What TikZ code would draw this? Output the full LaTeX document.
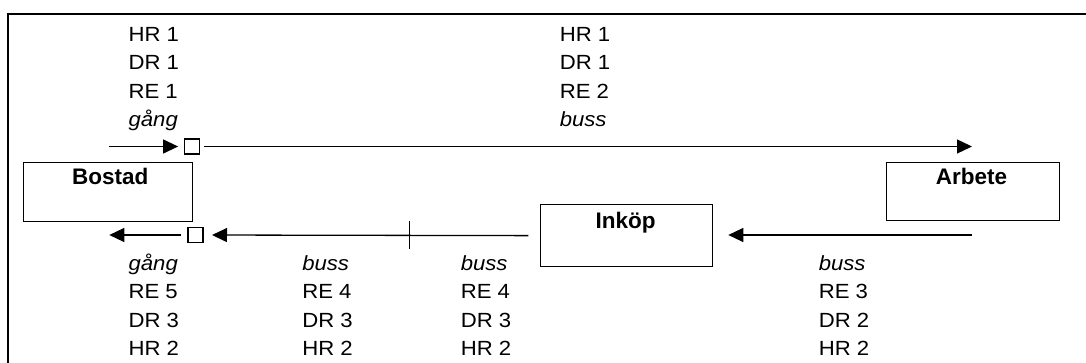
\documentclass[tikz,border=0pt]{standalone}
\usepackage{fontspec}
\setmainfont{Liberation Sans}
\newfontfamily\tripfont[FakeStretch=1.08]{Liberation Sans}
\usetikzlibrary{arrows.meta}
\begin{document}
\begin{tikzpicture}[x=1pt,y=-1pt,
  lbl/.style={font=\tripfont\fontsize{20.5}{28.2}\selectfont, align=left, inner sep=0pt, anchor=base},
  title/.style={font=\fontsize{22.5}{25}\selectfont\bfseries, inner sep=0pt, anchor=base},
  place/.style={draw, line width=1.3pt, inner sep=0pt, anchor=north west},
  stopbox/.style={draw, line width=1.2pt, minimum size=15pt, inner sep=0pt},
  conn/.style={line width=1.3pt, -{Triangle[length=15pt,width=14pt]}},
  frameline/.style={line width=2.4pt},
  tickline/.style={line width=1.2pt}]

\useasboundingbox (0,0) rectangle (1086,363);

% frame (top and left edges)
\draw[frameline] (7.8,363) -- (7.8,14) -- (1086,14);

% places
\node[place, minimum width=169pt, minimum height=59pt] (bostad) at (23,162) {};
\node[place, minimum width=173pt, minimum height=58pt] (arbete) at (886,162) {};
\node[place, minimum width=172pt, minimum height=62pt] (inkop) at (540,204) {};
\node[title] (bostadname) at (110.3,185) {Bostad};
\node[title] (arbetename) at (971.5,185) {Arbete};
\node[title] (inkopname) at (625.5,228.5) {Inköp};

% stops
\node[stopbox] (stopout) at (191.7,146.5) {};
\node[stopbox] (stophome) at (195.5,235) {};

% free ends
\coordinate (walkstart) at (109,146.5);
\coordinate (workend) at (972,146.5);
\coordinate (workstart) at (972.3,235);
\coordinate (shopend) at (728.3,235);
\coordinate (homeend) at (109.3,235);
\coordinate (change) at (409.3,235);

% trips
\draw[conn, shorten >=5.5pt] (walkstart) -- (stopout.west);
\draw[conn, shorten <=4pt] (stopout.east) -- (workend);
\draw[conn] (workstart) -- (shopend);
\draw[conn, shorten <=11.7pt, shorten >=8.4pt] (inkop.west) -- (stophome.east);
\draw[conn, shorten <=6pt] (stophome.west) -- (homeend);
\draw[tickline] (change) ++(0,-14) -- ++(0,28);

% trip labels (anchored at the baseline of the last line)
\node[lbl] (tripa) at (153.8,126.3) {HR 1\\DR 1\\RE 1\\\textit{gång}};
\node[lbl] (tripb) at (585,126.3) {HR 1\\DR 1\\RE 2\\\textit{buss}};
\node[lbl] (tripc) at (153.8,355.3) {\textit{gång}\\RE 5\\DR 3\\HR 2};
\node[lbl] (tripd) at (327.5,355.3) {\textit{buss}\\RE 4\\DR 3\\HR 2};
\node[lbl] (tripe) at (486,355.3) {\textit{buss}\\RE 4\\DR 3\\HR 2};
\node[lbl] (tripf) at (844,355.3) {\textit{buss}\\RE 3\\DR 2\\HR 2};
\end{tikzpicture}
\end{document}
